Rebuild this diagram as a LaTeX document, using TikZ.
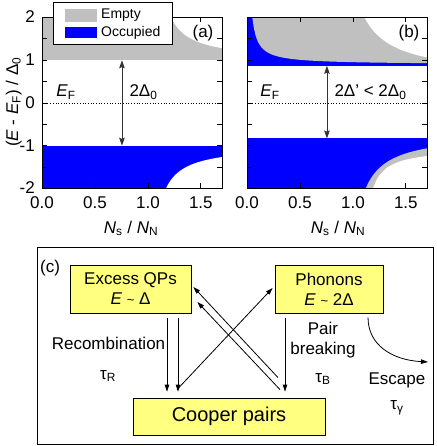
\documentclass[tikz,border=0pt]{standalone}
\usepackage{fontspec}
\setmainfont{Liberation Sans}
\usetikzlibrary{arrows.meta,calc}
\definecolor{fillgray}{RGB}{192,192,192}
\definecolor{boxyellow}{RGB}{255,255,128}
\definecolor{occblue}{RGB}{0,0,255}
\newcommand\fsmain{\fontsize{17}{20}\selectfont}
\newcommand\fslegend{\fontsize{14}{16}\selectfont}
\newcommand\fsbig{\fontsize{20}{24}\selectfont}
\begin{document}
\begin{tikzpicture}[x=1pt,y=-1pt,font=\fsmain,
  frame/.style={line width=1pt},
  tick/.style={line width=0.8pt},
  dblarr/.style={{Stealth[length=8pt,width=5.5pt,inset=1.2pt]}-{Stealth[length=8pt,width=5.5pt,inset=1.2pt]},line width=0.9pt,black!80},
  box/.style={draw,fill=boxyellow,line width=0.8pt,align=center,inner sep=0pt},
  arr/.style={-{Triangle[length=7pt,width=4.5pt]},line width=0.8pt},
  ticklab/.style={inner sep=0pt}]
\useasboundingbox (0,0) rectangle (436,446);

% ---------- panel (a)
\begin{scope}[shift={(42pt,-103pt)},x=105.9pt,y=42.75pt]
  \fill[fillgray] (0,1) rectangle (1.7,2);
  \fill[white] (1.22,2) -- plot[domain=1.22:1.7,samples=50] (\x,{1+0.19/(\x-1.03)}) -- (1.7,2) -- cycle;
  \fill[occblue] (0,-2) rectangle (1.7,-1);
  \fill[white] (1.17,-2) -- plot[domain=1.17:1.7,samples=50] (\x,{-1-0.19/(\x-0.98)}) -- (1.7,-2) -- cycle;
  \draw[dotted,line width=0.7pt] (0,0) -- (1.7,0);
  \foreach \v in {-1.5,-1,-0.5,0,0.5,1,1.5} {
    \draw[tick] (0,\v) -- ++(5pt,0);
    \draw[tick] (1.7,\v) -- ++(-5pt,0);
  }
  \foreach \v in {0.5,1,1.5} {
    \draw[tick] (\v,-2) -- ++(0,5pt);
    \draw[tick] (\v,2) -- ++(0,-5pt);
  }
  \coordinate (gapAtop) at (0.755,1);
  \coordinate (gapAbot) at (0.755,-1);
  \draw[dblarr] (gapAtop) -- (gapAbot);
  \draw[frame] (0,-2) rectangle (1.7,2);
\end{scope}

% ---------- panel (b)
\begin{scope}[shift={(247pt,-103pt)},x=105.9pt,y=42.75pt]
  \fill[occblue] (0,0.87) rectangle (1.7,2);
  \fill[fillgray] (0.05,2) -- plot[domain=0.05:1.7,samples=120] (\x,{0.9+0.055/\x}) -- (1.7,2) -- cycle;
  \fill[white] (1.11,2) -- plot[domain=1.11:1.7,samples=50] (\x,{0.6+0.411/(\x-0.816)}) -- (1.7,2) -- cycle;
  \fill[occblue] (0,-2) rectangle (1.7,-0.83);
  \fill[fillgray] (1.12,-2) -- plot[domain=1.12:1.7,samples=50] (\x,{-0.7-0.2886/(\x-0.898)}) -- (1.7,-2) -- cycle;
  \fill[white] (1.19,-2) -- plot[domain=1.19:1.7,samples=50] (\x,{-1.05-0.121/(\x-1.0626)}) -- (1.7,-2) -- cycle;
  \draw[dotted,line width=0.7pt] (0,0) -- (1.7,0);
  \foreach \v in {-1.5,-1,-0.5,0,0.5,1,1.5} {
    \draw[tick] (0,\v) -- ++(5pt,0);
    \draw[tick] (1.7,\v) -- ++(-5pt,0);
  }
  \foreach \v in {0.5,1,1.5} {
    \draw[tick] (\v,-2) -- ++(0,5pt);
    \draw[tick] (\v,2) -- ++(0,-5pt);
  }
  \coordinate (gapBtop) at (0.755,0.87);
  \coordinate (gapBbot) at (0.755,-0.83);
  \draw[dblarr] (gapBtop) -- (gapBbot);
  \draw[frame] (0,-2) rectangle (1.7,2);
\end{scope}

% legend
\draw[fill=white,line width=0.8pt] (53,2) rectangle (172,44);
\fill[fillgray] (65,9) rectangle (97,22);
\fill[occblue] (65,27) rectangle (97,38);
\node[anchor=west,font=\fslegend,inner sep=0pt] (lempty) at (101,15.5) {Empty};
\node[anchor=west,font=\fslegend,inner sep=0pt] (locc) at (101,32.5) {Occupied};

% panel labels and annotations
\node (laba) at (203,33) {(a)};
\node (labb) at (409,33) {(b)};
\node (efa) at (66,92) {\textit{E}\textsubscript{F}};
\node[anchor=west] (gapa) at (126,92) {2Δ\textsubscript{0}};
\node (efb) at (270,92) {\textit{E}\textsubscript{F}};
\node[anchor=west] (gapb) at (331,92) {2Δ' < 2Δ\textsubscript{0}};

% tick labels
\node[ticklab,anchor=east] (y2) at (35,17) {2};
\node[ticklab,anchor=east] (y1) at (35,60) {1};
\node[ticklab,anchor=east] (y0) at (35,103) {0};
\node[ticklab,anchor=east] (ym1) at (35,146) {-1};
\node[ticklab,anchor=east] (ym2) at (35,188) {-2};
\node (xa0) at (42,203) {0.0};
\node (xa1) at (94.95,203) {0.5};
\node (xa2) at (147.9,203) {1.0};
\node (xa3) at (200.85,203) {1.5};
\node (xb0) at (247,203) {0.0};
\node (xb1) at (299.95,203) {0.5};
\node (xb2) at (352.9,203) {1.0};
\node (xb3) at (405.85,203) {1.5};

% axis labels
\node[anchor=base] (xlaba) at (131,233) {\textit{N}\textsubscript{s} / \textit{N}\textsubscript{N}};
\node[anchor=base] (xlabb) at (338,233) {\textit{N}\textsubscript{s} / \textit{N}\textsubscript{N}};
\node[rotate=90,anchor=base] (ylab) at (18,102) {(\textit{E} - \textit{E}\textsubscript{F}) / Δ\textsubscript{0}};

% ---------- panel (c)
\draw[line width=0.8pt] (37,247) rectangle (433,444);
\node (labc) at (50,268) {(c)};
\node[box,minimum width=121pt,minimum height=48pt] (qp) at (130.5,289)
  {Excess QPs\\\textit{E} {\fontsize{13}{13}\selectfont\textasciitilde} Δ};
\node[box,minimum width=108pt,minimum height=48pt] (ph) at (329,289)
  {Phonons\\\textit{E} {\fontsize{13}{13}\selectfont\textasciitilde} 2Δ};
\node[box,minimum width=192pt,minimum height=37pt,font=\fsbig] (cp) at (229,416.5) {Cooper pairs};

\draw[arr,shorten <=5pt,shorten >=6pt] ([xshift=36.5pt]qp.south) -- ([xshift=-62pt]cp.north);
\draw[arr,shorten <=5pt,shorten >=6pt] ([xshift=47.5pt]qp.south) -- ([xshift=-51pt]cp.north);
\draw[arr,shorten <=5pt,shorten >=6pt] ([xshift=-44pt]ph.south) -- ([xshift=56pt]cp.north);
\draw[arr] ([shift={(49pt,20pt)}]cp.north) -- ([shift={(2pt,2pt)}]qp.east);
\draw[arr] ([shift={(51pt,8pt)}]cp.north) -- ([shift={(6pt,-13pt)}]qp.east);
\draw[arr] ([shift={(-52pt,8pt)}]cp.north) -- ([shift={(-2pt,1pt)}]ph.west);
\coordinate (escend) at (428,362);
\draw[arr] ([shift={(39pt,-4pt)}]ph.south) .. controls (368,345) and (392,360) .. (escend);

\node (reclab) at (108.5,343) {Recombination};
\node (taur) at (108,376) {τ\textsubscript{R}};
\node (pairlab) at (323,328) {Pair};
\node (breaklab) at (323,350) {breaking};
\node (taub) at (323,379) {τ\textsubscript{B}};
\node (esclab) at (397,380) {Escape};
\node (taug) at (397,408) {τ\textsubscript{γ}};
\end{tikzpicture}
\end{document}
